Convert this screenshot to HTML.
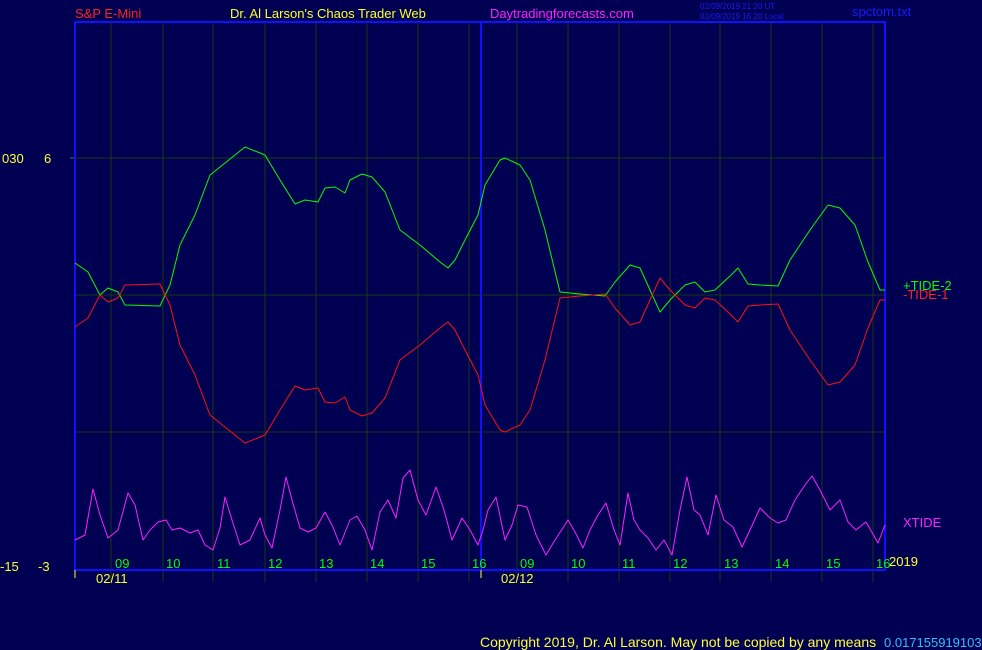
<!DOCTYPE html>
<html><head><style>
body{margin:0;background:#000052;}
svg{display:block;font-family:"Liberation Sans",sans-serif;}
</style></head><body>
<svg width="982" height="650" viewBox="0 0 982 650">
<rect width="982" height="650" fill="#000052"/>
<g stroke="#1a3a10" stroke-width="1">
<line x1="75" y1="158" x2="885" y2="158"/>
<line x1="75" y1="295" x2="885" y2="295"/>
<line x1="75" y1="432" x2="885" y2="432"/>
<line x1="70" y1="158" x2="75" y2="158" stroke="#2a8a20"/>
</g>
<g stroke="#1a3a10" stroke-width="1">
<line x1="111" y1="22" x2="111" y2="582"/><line x1="163" y1="22" x2="163" y2="582"/><line x1="213" y1="22" x2="213" y2="582"/><line x1="265" y1="22" x2="265" y2="582"/><line x1="316" y1="22" x2="316" y2="582"/><line x1="367" y1="22" x2="367" y2="582"/><line x1="418" y1="22" x2="418" y2="582"/><line x1="469" y1="22" x2="469" y2="582"/>
<line x1="517" y1="22" x2="517" y2="582"/><line x1="568" y1="22" x2="568" y2="582"/><line x1="619" y1="22" x2="619" y2="582"/><line x1="670" y1="22" x2="670" y2="582"/><line x1="720" y1="22" x2="720" y2="582"/><line x1="771" y1="22" x2="771" y2="582"/><line x1="822" y1="22" x2="822" y2="582"/><line x1="873" y1="22" x2="873" y2="582"/>
</g>
<rect x="75" y="22" width="810" height="548" fill="none" stroke="#1010ff" stroke-width="2"/>
<line x1="481" y1="22" x2="481" y2="570" stroke="#1010ff" stroke-width="2"/>
<line x1="75" y1="570" x2="75" y2="578" stroke="#ffff40"/>
<line x1="481" y1="570" x2="481" y2="578" stroke="#ffff40"/>
<polyline fill="none" stroke="#00ff00" stroke-width="1" stroke-linejoin="round" points="75,263 88,272 100,295 108,288 118,292 125,305 160,306 170,285 180,245 195,215 210,175 225,163 245,147 265,155 280,180 295,204 305,200 318,202 325,188 335,187 345,193 350,180 362,174 372,177 385,192 400,230 420,245 440,262 448,268 455,260 465,240 478,215 485,185 500,160 505,158 520,165 530,180 545,230 560,292 580,294 605,296 615,282 630,265 640,268 650,290 660,312 670,300 685,285 695,282 705,292 715,290 730,276 738,268 748,284 760,285 778,286 790,260 810,230 828,205 840,208 855,225 868,262 880,290 885,290"/>
<polyline fill="none" stroke="#ff1010" stroke-width="1" stroke-linejoin="round" transform="translate(0,590) scale(1,-1)" points="75,263 88,272 100,295 108,288 118,292 125,305 160,306 170,285 180,245 195,215 210,175 225,163 245,147 265,155 280,180 295,204 305,200 318,202 325,188 335,187 345,193 350,180 362,174 372,177 385,192 400,230 420,245 440,262 448,268 455,260 465,240 478,215 485,185 500,160 505,158 520,165 530,180 545,230 560,292 580,294 605,296 615,282 630,265 640,268 650,290 660,312 670,300 685,285 695,282 705,292 715,290 730,276 738,268 748,284 760,285 778,286 790,260 810,230 828,205 840,208 855,225 868,262 880,290 885,290"/>
<polyline fill="none" stroke="#ff20ff" stroke-width="1" stroke-linejoin="round" points="75,540 85,535 93,489 100,515 108,538 118,530 128,493 135,505 143,540 150,530 158,522 166,520 172,530 180,528 190,533 198,530 205,545 213,550 220,528 225,497 232,520 240,545 250,540 260,518 265,535 272,548 280,510 286,477 292,500 300,528 308,532 316,528 325,512 332,525 340,545 350,520 357,516 365,530 372,550 380,512 388,500 396,518 403,478 410,470 418,500 426,515 436,487 444,510 452,540 462,518 470,530 478,545 483,530 488,510 496,497 505,540 512,525 518,505 527,507 536,535 546,555 555,540 568,520 575,532 583,548 590,530 598,515 606,503 614,530 620,545 628,493 634,520 640,530 648,538 656,550 664,540 672,555 680,510 687,477 694,510 700,515 708,535 716,495 724,520 733,527 742,547 750,530 760,508 770,518 778,523 786,520 795,500 805,485 812,476 820,490 830,510 840,500 848,522 856,530 866,522 878,543 885,525"/>
<g font-size="13">
<text x="75" y="18" fill="#ff2020">S&amp;P E-Mini</text>
<text x="230" y="18" fill="#ffff30">Dr. Al Larson's Chaos Trader Web</text>
<text x="490" y="18" fill="#ff20ff">Daytradingforecasts.com</text>
<text x="852" y="16" fill="#1a1aff">spctom.txt</text>
</g>
<g font-size="8" fill="#1a1aff"><text x="700" y="9">02/09/2019 21:20 UT</text><text x="700" y="19">02/09/2019 16:20 Local</text></g>
<g font-size="13" fill="#ffff30">
<text x="2" y="163">030</text><text x="44" y="163">6</text>
<text x="0" y="571">-15</text><text x="38" y="571">-3</text>
<text x="889" y="566">2019</text>
<text x="96" y="583">02/11</text><text x="501" y="583">02/12</text>
<text x="480" y="647" font-size="14">Copyright 2019, Dr. Al Larson. May not be copied by any means</text>
</g>
<text x="884" y="647" font-size="13" fill="#30c0ff">0.0171559191036</text>
<g font-size="13">
<text x="903" y="290" fill="#00ff00">+TIDE-2</text>
<text x="903" y="299" fill="#ff2020">-TIDE-1</text>
<text x="903" y="527" fill="#ff20ff">XTIDE</text>
</g>
<g font-size="13" fill="#00ff00">
<text x="115" y="568">09</text><text x="166" y="568">10</text><text x="217" y="568">11</text><text x="268" y="568">12</text><text x="319" y="568">13</text><text x="370" y="568">14</text><text x="421" y="568">15</text><text x="472" y="568">16</text>
<text x="520" y="568">09</text><text x="571" y="568">10</text><text x="622" y="568">11</text><text x="673" y="568">12</text><text x="724" y="568">13</text><text x="775" y="568">14</text><text x="826" y="568">15</text><text x="876" y="568">16</text>
</g>
</svg>
</body></html>
